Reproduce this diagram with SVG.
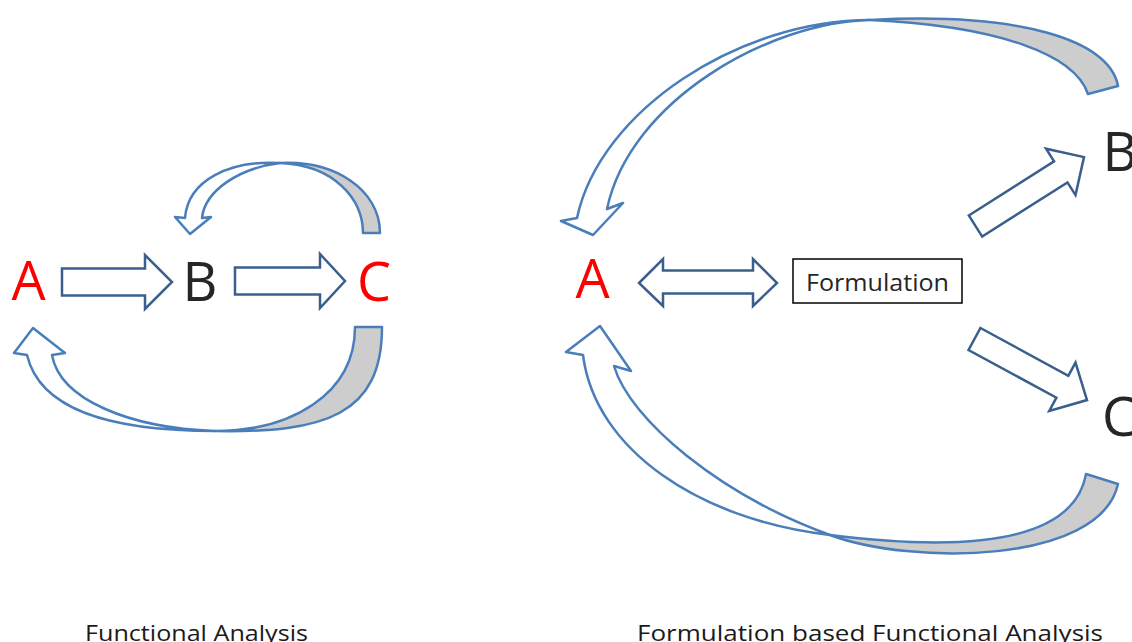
<svg xmlns="http://www.w3.org/2000/svg" width="1132" height="642" viewBox="0 0 1132 642">
  <style>
    .big { font-family: "Open Sans", "Noto Sans", "Liberation Sans", sans-serif; font-size: 54px; text-anchor: middle; }
    .red { fill: #FF0000; }
    .dark { fill: #262626; }
    .caption { font-family: "Open Sans", "Noto Sans", "Liberation Sans", sans-serif; font-size: 21px; fill: #1a1a1a; }
    .blk { fill: #FFFFFF; stroke: #3A5F8C; stroke-width: 2.5; stroke-linejoin: miter; }
    .crv { fill: #FFFFFF; stroke: #4A7EBB; stroke-width: 2.5; stroke-linejoin: round; }
    .back { fill: #CDCDCD; stroke: #4A7EBB; stroke-width: 2.5; stroke-linejoin: round; }
    .box { fill: #FFFFFF; stroke: #000000; stroke-width: 1.5; }
    .boxtxt { font-family: "Open Sans", "Noto Sans", "Liberation Sans", sans-serif; font-size: 24px; fill: #262626; }
  </style>

  <!-- Connectors -->
  <g id="connectors">
    <!-- Left panel: A -> B -->
    <polygon class="blk" points="62,268.5 145,268.5 145,255 172,282 145,309 145,295.5 62,295.5"/>
    <!-- Left panel: B -> C -->
    <polygon class="blk" points="235,267.5 320,267.5 320,254 345,281 320,308 320,294.5 235,294.5"/>

    <!-- Left panel: C -> B curved (top) -->
    <path class="back" d="M 363,233 C 363,200 335,165 280,163 C 335,160 380,190 380,233 Z"/>
    <path class="crv" d="M 280,163 C 230,160 188,180 185,218 L 175,217 L 190,234 L 211,217 L 202,218 C 205,190 240,168 280,163 Z"/>

    <!-- Left panel: C -> A curved (bottom) -->
    <path class="back" d="M 355,327 C 355,395 290,431 215,431 C 325,433 382,415 382,327 Z"/>
    <path class="crv" d="M 215,431 C 110,431 40,410 27,355 L 14,353 L 33,328 L 65,353 L 52,355 C 60,400 130,428 215,431 Z"/>

    <!-- Right panel: A <-> Formulation -->
    <polygon class="blk" points="639,283 663,259 663,270.5 753,270.5 753,259 777,283 753,306 753,293.5 663,293.5 663,306"/>

    <!-- Right panel: Formulation -> B -->
    <g transform="translate(975.5,226) rotate(-32.4)">
      <polygon class="blk" points="0,-12.5 101,-12.5 101,-27.5 128.5,0 101,27.5 101,12.5 0,12.5"/>
    </g>
    <!-- Right panel: Formulation -> C -->
    <g transform="translate(974.5,339) rotate(28.5)">
      <polygon class="blk" points="0,-12.5 100,-12.5 100,-27.5 128,0 100,27.5 100,12.5 0,12.5"/>
    </g>

    <!-- Right panel: B -> A curved (top) -->
    <path class="back" d="M 1088,94 C 1075,55 1000,26 870,20 C 1020,12 1110,40 1118,86 Z"/>
    <path class="crv" d="M 870,20 C 740,20 600,110 577,218 L 561,221 L 593,235 L 623,203 L 607,209 C 630,100 770,22 870,20 Z"/>

    <!-- Right panel: C -> A curved (bottom) -->
    <path class="back" d="M 1086,474 C 1075,535 990,555 830,535 C 910,565 1100,565 1118,484 Z"/>
    <path class="crv" d="M 830,535 C 700,520 595,450 583,355 L 566,352 L 600,326 L 631,371 L 614,366 C 630,420 720,495 830,535 Z"/>
  </g>

  <!-- Left panel nodes -->
  <g id="node-A-left"><text class="big red" x="28.5" y="300">A</text></g>
  <g id="node-B-left"><text class="big dark" x="200" y="301">B</text></g>
  <g id="node-C-left"><text class="big red" x="374" y="301">C</text></g>

  <!-- Right panel nodes -->
  <g id="node-A-right"><text class="big red" x="592.5" y="298">A</text></g>
  <g id="node-formulation">
    <rect class="box" x="793" y="259" width="169" height="44"/>
    <text class="boxtxt" x="806" y="291" textLength="143" lengthAdjust="spacingAndGlyphs">Formulation</text>
  </g>
  <g id="node-B-right"><text class="big dark" x="1120" y="171">B</text></g>
  <g id="node-C-right"><text class="big dark" x="1119" y="436">C</text></g>

  <!-- Captions -->
  <g id="captions">
    <text class="caption" x="85" y="641" textLength="223" lengthAdjust="spacingAndGlyphs">Functional Analysis</text>
    <text class="caption" x="637" y="641" textLength="466" lengthAdjust="spacingAndGlyphs">Formulation based Functional Analysis</text>
  </g>
</svg>
